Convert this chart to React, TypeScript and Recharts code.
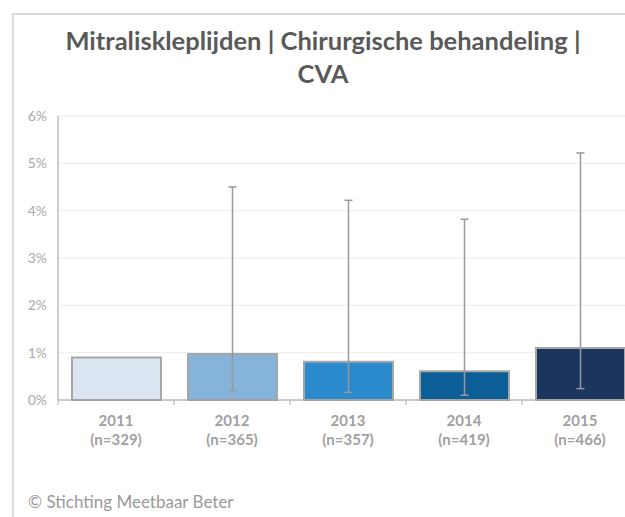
import { BarChart, Bar, XAxis, YAxis, CartesianGrid, ErrorBar, Cell } from "recharts";

const years = ["2011", "2012", "2013", "2014", "2015"];
const counts = [329, 365, 357, 419, 466];
const rates = [0.9, 0.97, 0.81, 0.61, 1.1];
// 95% interval bounds, in percent (2011 has none drawn)
const ciLow: (number | null)[] = [null, 0.2, 0.16, 0.1, 0.24];
const ciHigh: (number | null)[] = [null, 4.5, 4.22, 3.82, 5.22];
const barColors = ["#dce6f2", "#85b3d9", "#2a8acc", "#0b5e96", "#1c355e"];
const yTicks = [0, 1, 2, 3, 4, 5, 6];

const data = years.map((year, i) => {
  const lo = ciLow[i];
  const hi = ciHigh[i];
  return {
    year,
    n: counts[i],
    rate: rates[i],
    err: lo == null || hi == null ? undefined : [rates[i] - lo, hi - rates[i]],
  };
});

const FONT = "Lato, 'Open Sans', sans-serif";

function YearTick(props: any) {
  const { x, y, payload, index } = props;
  const half = payload?.offset ?? 0;
  return (
    <g>
      <line x1={x - half} x2={x - half} y1={y} y2={y + 5} stroke="#b0b0b0" />
      <text x={x} y={y + 26} textAnchor="middle" fill="#a0a0a0" fontSize={15} fontWeight={700} fontFamily={FONT}>
        {payload.value}
      </text>
      <text x={x} y={y + 45} textAnchor="middle" fill="#a0a0a0" fontSize={15} fontWeight={700} fontFamily={FONT}>
        (n={counts[index]})
      </text>
    </g>
  );
}

export default function App() {
  return (
    <div
      style={{
        position: "fixed",
        left: 0,
        top: 0,
        width: 625,
        height: 517,
        overflow: "hidden",
        background: "#fff",
        fontFamily: FONT,
      }}
    >
      <div
        style={{
          position: "absolute",
          left: 12,
          top: 13,
          width: 640,
          height: 520,
          borderLeft: "2px solid #dcdcdc",
          borderTop: "2px solid #dcdcdc",
        }}
      />
      <div
        style={{
          position: "absolute",
          left: 14,
          top: 24,
          width: 618,
          textAlign: "center",
          color: "#595959",
          fontWeight: 700,
          fontSize: 25.5,
          lineHeight: "33px",
        }}
      >
        Mitraliskleplijden | Chirurgische behandeling |<br />
        CVA
      </div>
      <div style={{ position: "absolute", left: 28, top: 491, color: "#9a9a9a", fontSize: 17 }}>
        © Stichting Meetbaar Beter
      </div>
      <div style={{ position: "absolute", left: 0, top: 0 }}>
        <BarChart
          width={660}
          height={460}
          data={data}
          margin={{ top: 116, right: 22, bottom: 0, left: 0 }}
        >
          <CartesianGrid vertical={false} stroke="#ececec" />
          <XAxis
            dataKey="year"
            height={60}
            axisLine={{ stroke: "#a0a0a0" }}
            tickLine={false}
            tickSize={0}
            tickMargin={0}
            tick={<YearTick />}
            interval={0}
          />
          <YAxis
            width={58}
            domain={[0, 6]}
            ticks={yTicks}
            tickFormatter={(v: number) => `${v}%`}
            axisLine={{ stroke: "#a0a0a0" }}
            tickLine={false}
            tickSize={0}
            tickMargin={11}
            tick={{ fill: "#aaaaaa", fontSize: 14, fontFamily: FONT }}
          />
          <Bar dataKey="rate" barSize={89} stroke="#a6a6a6" strokeWidth={2} isAnimationActive={false}>
            {data.map((d, i) => (
              <Cell key={d.year} fill={barColors[i]} />
            ))}
            <ErrorBar dataKey="err" width={4} stroke="#999999" strokeWidth={1.5} direction="y" />
          </Bar>
        </BarChart>
      </div>
    </div>
  );
}
